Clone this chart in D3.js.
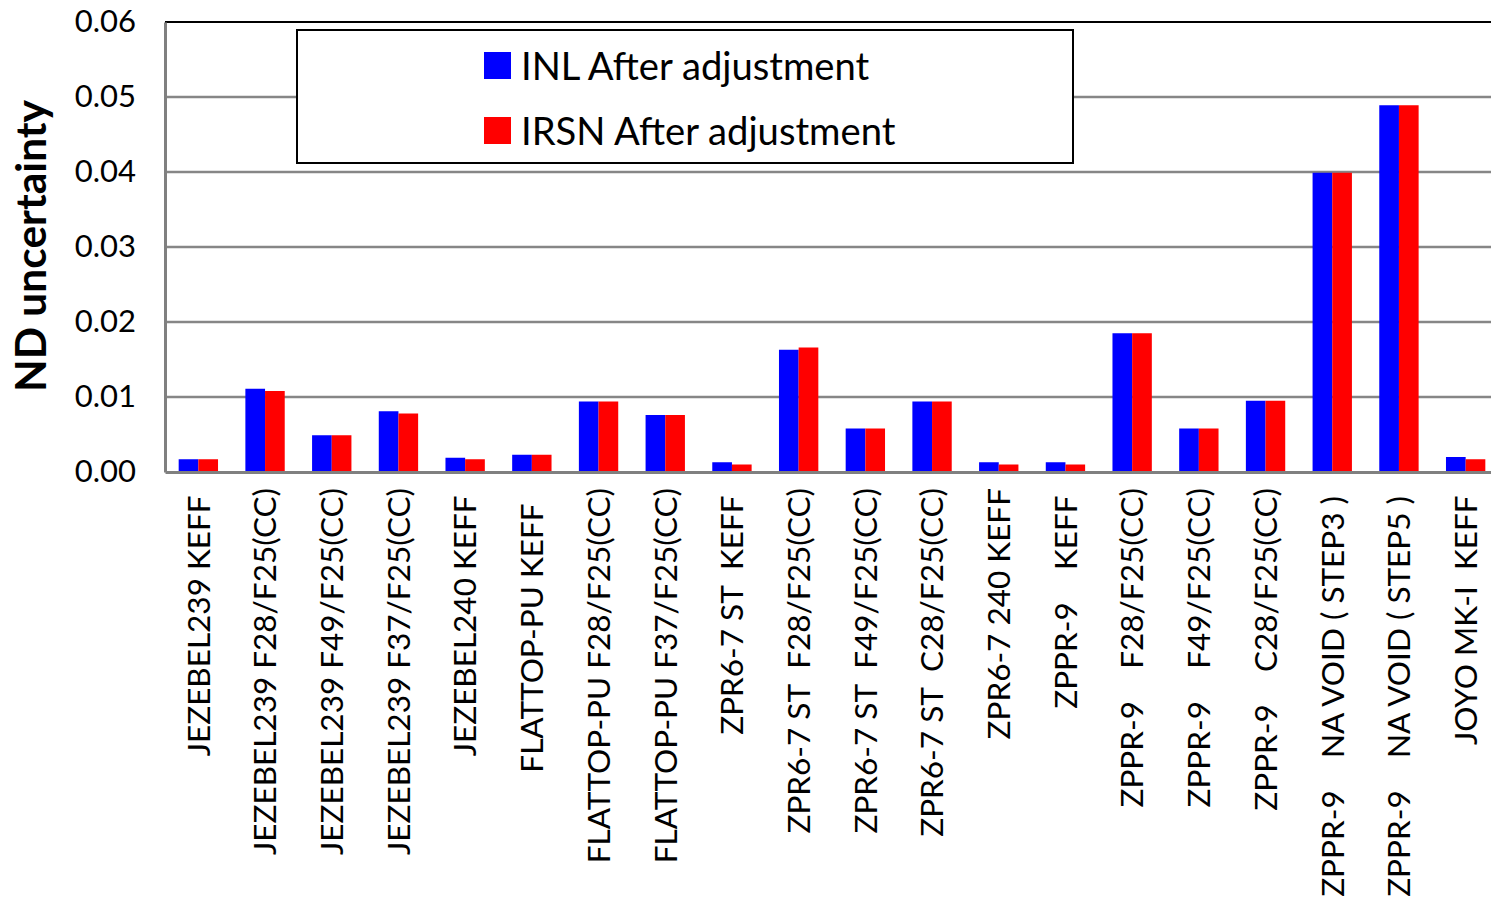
<!DOCTYPE html>
<html>
<head>
<meta charset="utf-8">
<script src="https://cdn.jsdelivr.net/npm/d3@7"></script>
<style>
  html, body { margin: 0; padding: 0; background: #fff; overflow: hidden; }
  svg { display: block; }
  text { font-family: Lato, "Open Sans", sans-serif; fill: #000; }
</style>
</head>
<body>
<svg id="chart" width="1491" height="906"></svg>
<script>
// ---- data ----
const categories = [
  "JEZEBEL239 KEFF ",
  "JEZEBEL239 F28/F25(CC)",
  "JEZEBEL239 F49/F25(CC)",
  "JEZEBEL239 F37/F25(CC)",
  "JEZEBEL240 KEFF ",
  "FLATTOP-PU KEFF  ",
  "FLATTOP-PU F28/F25(CC)",
  "FLATTOP-PU F37/F25(CC)",
  "ZPR6-7 ST  KEFF ",
  "ZPR6-7 ST  F28/F25(CC)",
  "ZPR6-7 ST  F49/F25(CC)",
  "ZPR6-7 ST  C28/F25(CC)",
  "ZPR6-7 240 KEFF",
  "ZPPR-9    KEFF ",
  "ZPPR-9    F28/F25(CC)",
  "ZPPR-9    F49/F25(CC)",
  "ZPPR-9    C28/F25(CC)",
  "ZPPR-9    NA VOID ( STEP3 ) ",
  "ZPPR-9    NA VOID ( STEP5 ) ",
  "JOYO MK-I  KEFF "
];
const seriesNames = ["INL After adjustment", "IRSN After adjustment"];
const inlValues  = [0.0017, 0.0111, 0.0049, 0.0081, 0.0019, 0.0023, 0.0094, 0.0076, 0.0013, 0.0163,
                    0.0058, 0.0094, 0.0013, 0.0013, 0.0185, 0.0058, 0.0095, 0.0399, 0.0489, 0.0020];
const irsnValues = [0.0017, 0.0108, 0.0049, 0.0078, 0.0017, 0.0023, 0.0094, 0.0076, 0.0010, 0.0166,
                    0.0058, 0.0094, 0.0010, 0.0010, 0.0185, 0.0058, 0.0095, 0.0399, 0.0489, 0.0017];
const yTicks = [0, 0.01, 0.02, 0.03, 0.04, 0.05, 0.06];
const yTitle = "ND uncertainty";
const colors = ["#0000ff", "#ff0000"];

// ---- layout ----
const svg = d3.select("#chart");
const plot = { left: 165, right: 1499, top: 22, bottom: 472 };

const x0 = d3.scaleBand().domain(d3.range(categories.length))
  .range([plot.left, plot.right]).paddingInner(0.41).paddingOuter(0.205);
const x1 = d3.scaleBand().domain([0, 1]).range([0, x0.bandwidth()]).padding(0);
const y = d3.scaleLinear().domain([0, 0.06]).range([plot.bottom, plot.top]);

// gridlines
svg.append("g").selectAll("line").data(yTicks.filter(d => d > 0 && d < 0.06)).join("line")
  .attr("x1", plot.left).attr("x2", plot.right)
  .attr("y1", d => y(d)).attr("y2", d => y(d))
  .attr("stroke", "#868686").attr("stroke-width", 2.5);

// top border
svg.append("line").attr("x1", plot.left).attr("x2", plot.right)
  .attr("y1", y(0.06)).attr("y2", y(0.06)).attr("stroke", "#000").attr("stroke-width", 2);

// bars
const seriesData = [inlValues, irsnValues];
const gb = svg.append("g");
seriesData.forEach((vals, si) => {
  gb.selectAll(null).data(vals).join("rect")
    .attr("x", (d, i) => x0(i) + x1(si))
    .attr("width", x1.bandwidth())
    .attr("y", d => y(d))
    .attr("height", d => y(0) - y(d))
    .attr("fill", colors[si]);
});

// y axis
const yAxis = d3.axisLeft(y).tickValues(yTicks).tickFormat(d3.format(".2f")).tickSize(0).tickPadding(29);
const gy = svg.append("g").attr("transform", `translate(${plot.left},0)`).call(yAxis);
gy.select(".domain").attr("stroke", "#808080").attr("stroke-width", 3);
gy.selectAll("text").attr("font-size", 31).attr("font-family", "Lato").attr("fill", "#000");

// x axis
const xAxis = d3.axisBottom(x0).tickSize(0).tickFormat(i => categories[i]);
const gx = svg.append("g").attr("transform", `translate(0,${plot.bottom})`).call(xAxis);
gx.select(".domain").attr("stroke", "#808080").attr("stroke-width", 3);
gx.selectAll("text")
  .attr("font-size", 31.5).attr("font-family", "Lato").attr("fill", "#000")
  .style("white-space", "pre")
  .attr("text-anchor", "end")
  .attr("transform", "rotate(-90)")
  .attr("x", -16).attr("y", 0).attr("dy", "0.36em");

// y title
svg.append("text")
  .attr("transform", `translate(46,246) rotate(-90)`)
  .attr("text-anchor", "middle")
  .attr("font-size", 42.5).attr("font-weight", "bold")
  .text(yTitle);

// legend
const lg = svg.append("g");
lg.append("rect").attr("x", 297).attr("y", 30).attr("width", 776).attr("height", 133)
  .attr("fill", "#fff").attr("stroke", "#000").attr("stroke-width", 2);
seriesNames.forEach((name, i) => {
  const cy = 66 + i * 65;
  lg.append("rect").attr("x", 484).attr("y", cy - 14).attr("width", 27).attr("height", 27).attr("fill", colors[i]);
  lg.append("text").attr("x", 521).attr("y", cy).attr("dy", "0.36em")
    .attr("font-size", 38.2).text(name);
});
</script>
</body>
</html>
